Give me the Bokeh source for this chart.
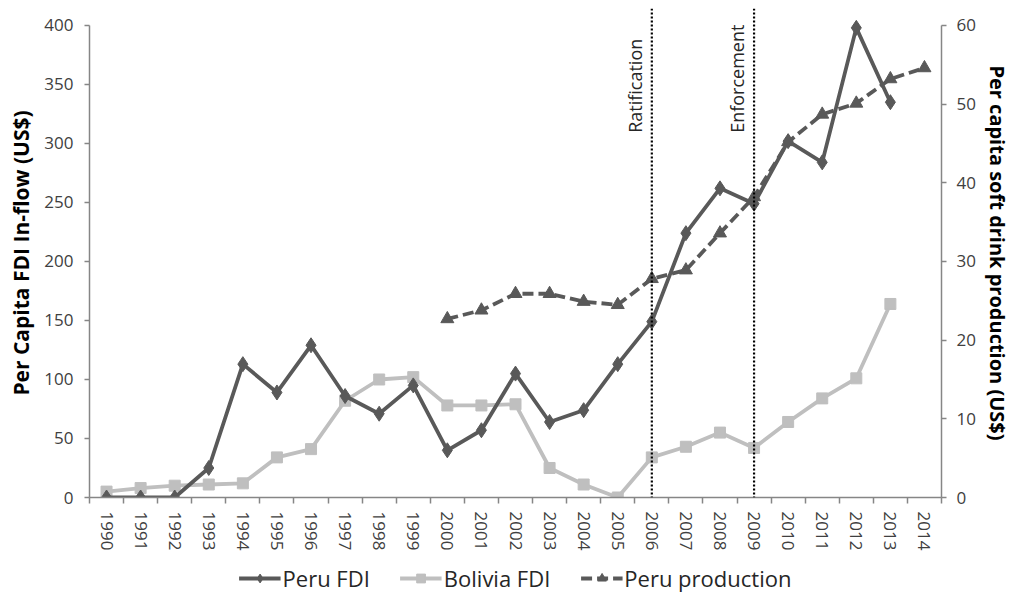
from bokeh.plotting import figure
from bokeh.layouts import column
from bokeh.models import (Range1d, LinearAxis, FixedTicker, Span, Legend, LegendItem,
                          ColumnDataSource, Label)
from bokeh.embed import file_html
from bokeh.resources import INLINE

years = list(range(1990, 2015))
peru_years = list(range(1990, 2014))
peru_fdi = [0, 0, 0, 25, 113, 89, 129, 86, 71, 95, 40, 57, 105, 64, 74, 113, 149, 224, 262, 249, 302, 284, 398, 335]
bolivia_years = list(range(1990, 2014))
bolivia_fdi = [5, 8, 10, 11, 12, 34, 41, 82, 100, 102, 78, 78, 79, 25, 11, 0, 34, 43, 55, 42, 64, 84, 101, 164]
prod_years = list(range(2000, 2015))
peru_prod = [22.7, 23.8, 25.9, 25.9, 24.9, 24.5, 27.8, 28.9, 33.6, 38.2, 45.2, 48.7, 50.1, 53.2, 54.6]
left_ticks = [0, 50, 100, 150, 200, 250, 300, 350, 400]
right_ticks = [0, 10, 20, 30, 40, 50, 60]
events = [(2006, "Ratification"), (2009, "Enforcement")]
series_names = ["Peru FDI", "Bolivia FDI", "Peru production"]

FONT = "Open Sans"
DARK = "#595959"
LIGHT = "#bfbfbf"
AX = "#868686"
TXT = "#404040"

top_left = 414.4
p = figure(width=1013, height=561, output_backend="svg", toolbar_location=None,
           x_range=Range1d(1989.5, 2014.5), y_range=Range1d(0, top_left),
           min_border_left=89, min_border_right=71, min_border_top=8, min_border_bottom=64)
p.outline_line_color = None
p.xgrid.visible = False
p.ygrid.visible = False
p.background_fill_color = "white"
p.border_fill_color = "white"

p.extra_y_ranges = {"right": Range1d(0, top_left * 60 / 400)}

# x axis
xa = p.xaxis[0]
xa.ticker = FixedTicker(ticks=years, minor_ticks=[y - 0.5 for y in years] + [years[-1] + 0.5])
xa.major_tick_line_color = None
xa.minor_tick_line_color = AX
xa.minor_tick_out = 6
xa.minor_tick_in = 0
xa.minor_tick_line_width = 1.5
xa.axis_line_color = AX
xa.axis_line_width = 1.5
xa.major_label_orientation = "vertical"
xa.major_label_text_font = FONT
xa.major_label_text_font_size = "17px"
xa.major_label_text_color = TXT
xa.major_label_standoff = 8

# left axis
ya = p.yaxis[0]
ya.ticker = FixedTicker(ticks=left_ticks)
ya.bounds = (0, 400)
ya.minor_tick_line_color = None
ya.major_tick_out = 5
ya.major_tick_in = 0
ya.major_tick_line_color = AX
ya.major_tick_line_width = 1.5
ya.axis_line_color = AX
ya.axis_line_width = 1.5
ya.major_label_text_font = FONT
ya.major_label_text_font_size = "17px"
ya.major_label_text_color = TXT
ya.major_label_standoff = 11
ya.axis_label = "Per Capita FDI In-flow (US$)"
ya.axis_label_text_font = FONT
ya.axis_label_text_font_style = "bold"
ya.axis_label_text_font_size = "21px"
ya.axis_label_text_color = "#000000"
ya.axis_label_standoff = 6

# right axis
ra = LinearAxis(y_range_name="right", ticker=FixedTicker(ticks=right_ticks), bounds=(0, 60))
ra.minor_tick_line_color = None
ra.major_tick_out = 5
ra.major_tick_in = 0
ra.major_tick_line_color = AX
ra.major_tick_line_width = 1.5
ra.axis_line_color = AX
ra.axis_line_width = 1.5
ra.major_label_text_font = FONT
ra.major_label_text_font_size = "17px"
ra.major_label_text_color = TXT
ra.major_label_standoff = 10
ra.axis_label = "Per capita soft drink production (US$)"
ra.axis_label_text_font = FONT
ra.axis_label_text_font_style = "bold"
ra.axis_label_text_font_size = "20px"
ra.axis_label_text_color = "#000000"
ra.axis_label_standoff = 5
p.add_layout(ra, "right")

# event lines
for yr, name in events:
    p.add_layout(Span(location=yr, dimension="height", line_color="black",
                      line_dash="2 2", line_width=2.2))
    p.add_layout(Label(x=yr, y=309, text=name, angle=1.5708, x_offset=-5,
                       text_baseline="bottom", text_align="left",
                       text_font=FONT, text_font_size="18px", text_color="#262626"))

src_b = ColumnDataSource(dict(x=bolivia_years, y=bolivia_fdi))
src_p = ColumnDataSource(dict(x=peru_years, y=peru_fdi))
src_r = ColumnDataSource(dict(x=prod_years, y=peru_prod))


def draw(fig, extra=True):
    kw = dict(y_range_name="right") if extra else {}
    lb = fig.line("x", "y", source=src_b, line_color=LIGHT, line_width=3.8)
    sb = fig.scatter("x", "y", source=src_b, marker="square", size=11, color=LIGHT)
    lr = fig.line("x", "y", source=src_r, line_color=DARK, line_width=3.8,
                  line_dash="11 5", **kw)
    sr = fig.scatter("x", "y", source=src_r, marker="triangle", size=13, color=DARK, **kw)
    lp = fig.line("x", "y", source=src_p, line_color=DARK, line_width=3.8)
    sp = fig.scatter("x", "y", source=src_p, marker="diamond", size=15, color=DARK)
    return [[lp, sp], [lb, sb], [lr, sr]]


draw(p)

# legend strip below the chart
lf = figure(width=1013, height=34, output_backend="svg", toolbar_location=None,
            x_range=Range1d(0, 1), y_range=Range1d(0, 1),
            min_border=0, min_border_left=89, min_border_right=71)
lf.axis.visible = False
lf.grid.visible = False
lf.outline_line_color = None
lf.border_fill_color = "white"
groups = draw(lf, extra=False)
legend = Legend(items=[LegendItem(label=n, renderers=g) for n, g in zip(series_names, groups)],
                orientation="horizontal", location="center",
                glyph_width=42, glyph_height=22, spacing=30, label_standoff=2,
                label_text_font=FONT, label_text_font_size="22px",
                label_text_color="#262626", border_line_color=None,
                background_fill_alpha=0, padding=0, margin=0)
lf.add_layout(legend, "center")

layout = column(p, lf, spacing=0)
open("out.html", "w").write(file_html(layout, INLINE))
